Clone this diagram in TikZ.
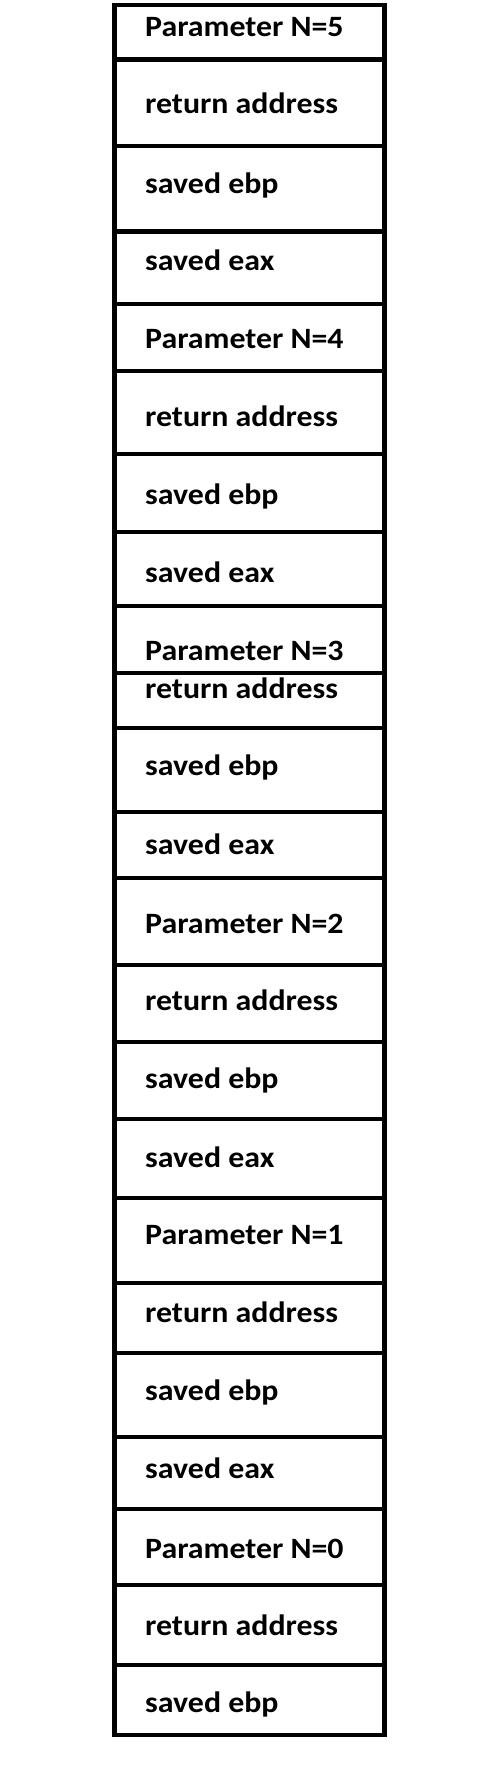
\documentclass[tikz,border=0pt]{standalone}
\usepackage{fontspec}
\setmainfont{Carlito}[FakeStretch=1.08]
\usetikzlibrary{positioning}

\begin{document}
\begin{tikzpicture}[
  x=1pt, y=-1pt,
  cell/.style={anchor=base west, inner sep=0pt, font=\bfseries\fontsize{29.5}{33}\selectfont},
  wall/.style={line width=4.5pt, black},
]
  \useasboundingbox (0,0) rectangle (502,1770);

  % Frame of the stack
  \draw[wall] (114.5,5) rectangle (384.5,1735);

  % Separators between the slots
  \foreach \y in {59.5,146,231.5,304,371,454,532,606,673,728,812,878,965,1042,1119,1198,1283,1353,1437,1509,1585,1665}
    \draw[wall] (114.5,\y) -- (384.5,\y);

  % Frame for N=5
  \node[cell] (par5) at (145,36) {Parameter N=5};
  \node[cell] (ret5) at (145,113) {return address};
  \node[cell] (ebp5) at (145,193) {saved ebp};
  \node[cell] (eax5) at (145,270) {saved eax};

  % Frame for N=4
  \node[cell] (par4) at (145,348) {Parameter N=4};
  \node[cell] (ret4) at (145,426) {return address};
  \node[cell] (ebp4) at (145,504) {saved ebp};
  \node[cell] (eax4) at (145,582) {saved eax};

  % Frame for N=3
  \node[cell] (par3) at (145,660) {Parameter N=3};
  \node[cell] (ret3) at (145,698) {return address};
  \node[cell] (ebp3) at (145,775) {saved ebp};
  \node[cell] (eax3) at (145,854) {saved eax};

  % Frame for N=2
  \node[cell] (par2) at (145,933) {Parameter N=2};
  \node[cell] (ret2) at (145,1010) {return address};
  \node[cell] (ebp2) at (145,1088) {saved ebp};
  \node[cell] (eax2) at (145,1167) {saved eax};

  % Frame for N=1
  \node[cell] (par1) at (145,1244) {Parameter N=1};
  \node[cell] (ret1) at (145,1322) {return address};
  \node[cell] (ebp1) at (145,1400) {saved ebp};
  \node[cell] (eax1) at (145,1478) {saved eax};

  % Frame for N=0
  \node[cell] (par0) at (145,1558) {Parameter N=0};
  \node[cell] (ret0) at (145,1635) {return address};
  \node[cell] (ebp0) at (145,1712) {saved ebp};
\end{tikzpicture}
\end{document}
